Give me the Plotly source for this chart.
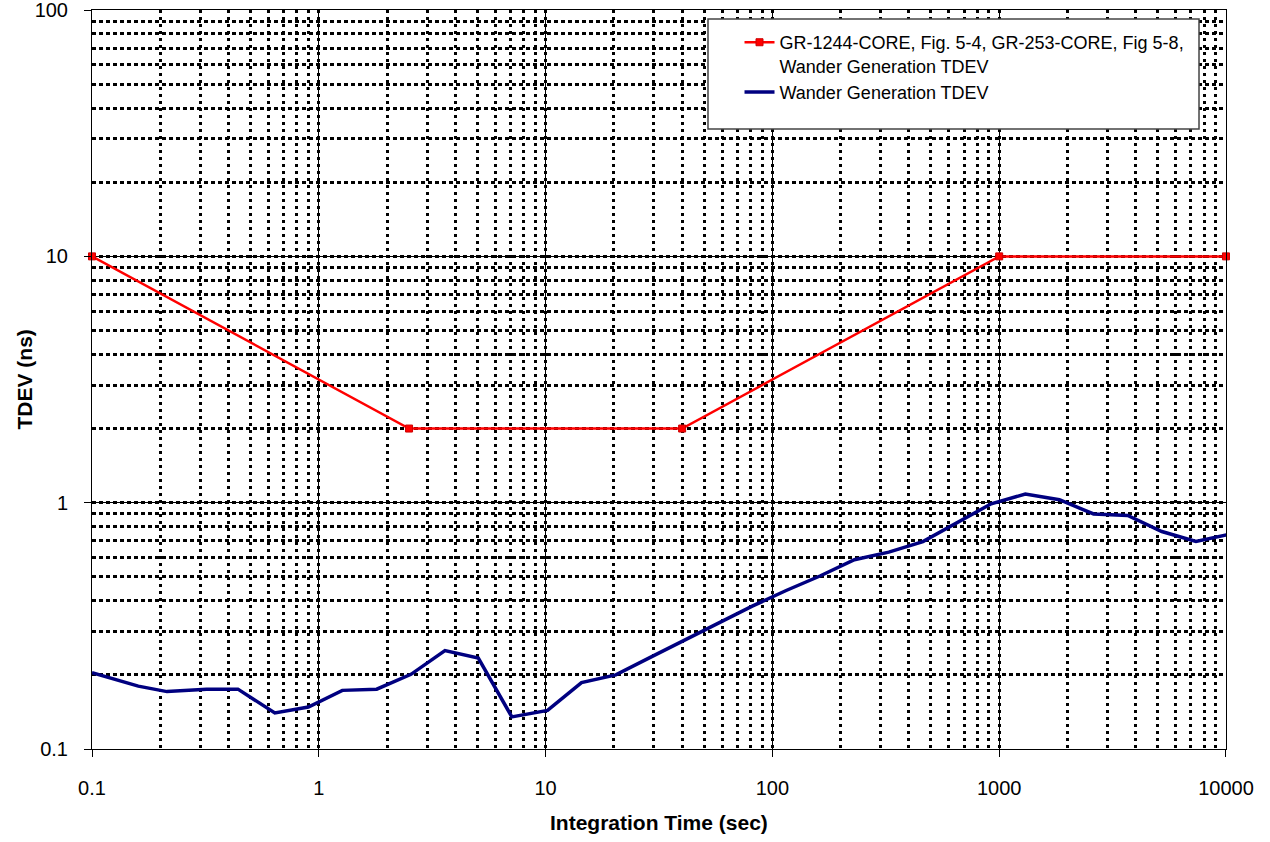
import plotly.graph_objects as go

# ---- data ----
mask_x = [0.1, 2.5, 40, 1000, 10000]
mask_y = [10, 2, 2, 10, 10]

tdev_x = [0.1, 0.16, 0.214, 0.32, 0.44, 0.64, 0.9, 1.27, 1.8, 2.55, 3.6, 5.05, 7.1, 10.2,
          14.4, 20.4, 28.8, 40.7, 57.6, 81.5, 115, 163, 230, 326, 461, 652, 922,
          1304, 1843, 2607, 3687, 5214, 7373, 10427]
tdev_y = [0.204, 0.18, 0.171, 0.175, 0.175, 0.140, 0.148, 0.173, 0.175, 0.201, 0.251, 0.234, 0.135, 0.1435,
          0.186, 0.2, 0.235, 0.275, 0.324, 0.38, 0.44, 0.505, 0.587, 0.63, 0.695, 0.83, 0.99,
          1.084, 1.028, 0.9, 0.887, 0.764, 0.696, 0.745]

x_ticks = [0.1, 1, 10, 100, 1000, 10000]
x_ticktext = ["0.1", "1", "10", "100", "1000", "10000"]
y_ticks = [0.1, 1, 10, 100]
y_ticktext = ["0.1", "1", "10", "100"]

mask_name = "GR-1244-CORE, Fig. 5-4, GR-253-CORE, Fig 5-8,<br>Wander Generation TDEV"
tdev_name = "Wander Generation TDEV"
x_title = "Integration Time (sec)"
y_title = "TDEV (ns)"

FONT = "Liberation Sans, Arial, sans-serif"

fig = go.Figure()
fig.add_trace(go.Scatter(x=mask_x, y=mask_y, name=mask_name, mode="lines+markers",
                         legendgroup="mask",
                         line=dict(color="#FF0000", width=2.5),
                         marker=dict(symbol="square", size=7, color="#FF0000",
                                     line=dict(color="#CC0000", width=1)),
                         cliponaxis=False))
fig.add_trace(go.Scatter(x=tdev_x, y=tdev_y, name=tdev_name, mode="lines",
                         legendgroup="tdev",
                         line=dict(color="#000080", width=3.5)))

axis_common = dict(
    type="log", showline=True, linecolor="black", linewidth=1, mirror=True,
    ticks="outside", ticklen=7, tickcolor="black", tickwidth=1,
    showgrid=True, gridcolor="black", gridwidth=1,
    tickfont=dict(family=FONT, size=20, color="black"),
    zeroline=False, ticklabeloverflow="allow", automargin=False,
)

fig.update_xaxes(**axis_common, range=[-1, 4.0001], tickvals=x_ticks, ticktext=x_ticktext,
                 ticklabelstandoff=14,
                 minor=dict(dtick="D1", showgrid=True, gridcolor="black", gridwidth=2.5,
                            griddash="3px,4px", ticks=""))
fig.update_yaxes(**axis_common, range=[-1, 2.0003], tickvals=y_ticks, ticktext=y_ticktext,
                 ticklabelstandoff=12,
                 minor=dict(dtick="D1", showgrid=True, gridcolor="black", gridwidth=2.5,
                            griddash="4px,3px", ticks=""))

# legend box
fig.add_shape(type="rect", xref="paper", yref="paper",
              x0=0.5432, x1=0.9762, y0=0.839, y1=0.9878,
              line=dict(color="#444444", width=1.5), fillcolor="white", layer="above")

fig.add_annotation(text="<b>%s</b>" % x_title, xref="paper", yref="paper", x=0.5, y=-0.1001,
                   xanchor="center", yanchor="middle", showarrow=False,
                   font=dict(family=FONT, size=21, color="black"))
fig.add_annotation(text="<b>%s</b>" % y_title, xref="paper", yref="paper", x=-0.0591, y=0.5,
                   xanchor="center", yanchor="middle", showarrow=False, textangle=-90,
                   font=dict(family=FONT, size=21, color="black"))

fig.update_layout(
    width=1270, height=842,
    margin=dict(l=92, r=44, t=10, b=93, autoexpand=False),
    paper_bgcolor="white", plot_bgcolor="white",
    font=dict(family=FONT, color="black"),
    legend=dict(x=0.571, y=0.981, xanchor="left", yanchor="top",
                bgcolor="rgba(0,0,0,0)", borderwidth=0, valign="top",
                font=dict(family=FONT, size=18, color="black"),
                tracegroupgap=0),
    showlegend=True,
)

fig.write_html("out.html")
